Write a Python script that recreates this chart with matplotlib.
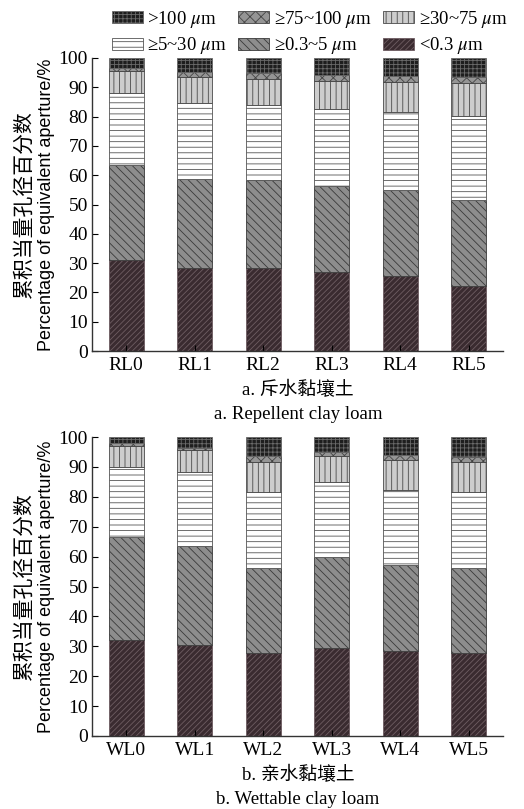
import matplotlib
matplotlib.use("Agg")
import matplotlib.pyplot as plt
import numpy as np
from matplotlib.patches import Patch

plt.rcParams['font.family'] = ['Liberation Serif', 'DejaVu Serif']
plt.rcParams['mathtext.fontset'] = 'stix'
plt.rcParams['hatch.linewidth'] = 0.6

# cumulative tops of each class (%), from bottom class upward
rl_labels = ['RL0', 'RL1', 'RL2', 'RL3', 'RL4', 'RL5']
rl_lt03 = [31.2, 28.2, 28.4, 27.1, 25.6, 22.3]
rl_03_5 = [63.4, 58.6, 58.2, 56.3, 54.8, 51.5]
rl_5_30 = [87.9, 84.5, 84.1, 82.5, 81.6, 80.3]
rl_30_75 = [95.5, 93.4, 93.0, 92.2, 91.9, 91.3]
rl_75_100 = [96.5, 95.1, 94.9, 94.2, 94.0, 93.6]
rl_gt100 = [100, 100, 100, 100, 100, 100]

wl_labels = ['WL0', 'WL1', 'WL2', 'WL3', 'WL4', 'WL5']
wl_lt03 = [32.1, 30.3, 27.8, 29.3, 28.4, 27.8]
wl_03_5 = [66.4, 63.4, 56.1, 59.7, 57.2, 56.1]
wl_5_30 = [89.9, 88.2, 81.6, 84.8, 82.3, 81.6]
wl_30_75 = [97.1, 95.5, 91.5, 93.7, 92.2, 91.5]
wl_75_100 = [98.0, 96.3, 93.5, 95.0, 94.0, 93.3]
wl_gt100 = [100, 100, 100, 100, 100, 100]

class_names = ['<0.3 $\\mu$m', '≥0.3~5 $\\mu$m', '≥5~30 $\\mu$m',
               '≥30~75 $\\mu$m', '≥75~100 $\\mu$m', '>100 $\\mu$m']
ylabel_cn = '累积当量孔径百分数'
ylabel_en = 'Percentage of equivalent aperture/%'

styles = [
    dict(facecolor='#3a2b30', edgecolor='#6e5d62', hatch='//////'),
    dict(facecolor='#8d8d8d', edgecolor='#3a3a3a', hatch='\\\\\\\\'),
    dict(facecolor='#ffffff', edgecolor='#555555', hatch='---'),
    dict(facecolor='#cdcdcd', edgecolor='#4a4a4a', hatch='|||'),
    dict(facecolor='#959595', edgecolor='#444444', hatch='xxx'),
    dict(facecolor='#1e1e1e', edgecolor='#6a6a6a', hatch='++++'),
]

W, H = 524, 809
fig = plt.figure(figsize=(W / 100, H / 100), dpi=100)
AX_L, AX_R = 92, 503


def make_ax(top_px, bot_px):
    return fig.add_axes([AX_L / W, 1 - bot_px / H, (AX_R - AX_L) / W, (bot_px - top_px) / H])


def draw(ax, labels, series):
    x = np.arange(len(labels))
    prev = np.zeros(len(labels))
    for vals, st in zip(series, styles):
        vals = np.array(vals, dtype=float)
        ax.bar(x, vals - prev, bottom=prev, width=0.51, linewidth=0.6, **st)
        prev = vals
    ax.set_xlim(-0.5, 5.5)
    ax.set_ylim(0, 100)
    ax.set_yticks(np.arange(0, 101, 10))
    ax.set_xticks(x)
    ax.set_xticklabels(labels)
    ax.spines['top'].set_visible(False)
    ax.spines['right'].set_visible(False)
    for s in ['left', 'bottom']:
        ax.spines[s].set_linewidth(1.0)
        ax.spines[s].set_color('#333333')
    ax.tick_params(direction='in', labelsize=14, length=4, width=0.8, pad=3)
    ax.tick_params(axis='x', pad=4)
    wpx = AX_R - AX_L
    ax.text((24 - AX_L) / wpx, 0.5, ylabel_cn, transform=ax.transAxes, rotation=90,
            ha='center', va='center', fontsize=15,
            family=['Noto Sans CJK SC', 'DejaVu Sans'])
    ax.text((47 - AX_L) / wpx, 0.5, ylabel_en, transform=ax.transAxes,
            rotation=90, ha='center', va='center', fontsize=13,
            family=['Liberation Sans', 'DejaVu Sans'])


ax1 = make_ax(58, 351)
draw(ax1, rl_labels, [rl_lt03, rl_03_5, rl_5_30, rl_30_75, rl_75_100, rl_gt100])
fig.text(298 / W, 1 - 390 / H, 'a. 斥水黏壤土', ha='center', va='center', fontsize=13.5,
         family=['Liberation Serif', 'Noto Sans CJK SC'])
fig.text(298 / W, 1 - 415 / H, 'a. Repellent clay loam', ha='center', va='center', fontsize=13.5)

ax2 = make_ax(437, 736)
draw(ax2, wl_labels, [wl_lt03, wl_03_5, wl_5_30, wl_30_75, wl_75_100, wl_gt100])
fig.text(298 / W, 1 - 775 / H, 'b. 亲水黏壤土', ha='center', va='center', fontsize=13.5,
         family=['Liberation Serif', 'Noto Sans CJK SC'])
fig.text(298 / W, 1 - 800 / H, 'b. Wettable clay loam', ha='center', va='center', fontsize=13.5)

# legend: row1 >100, >=75~100, >=30~75 ; row2 >=5~30, >=0.3~5, <0.3
order = [5, 2, 4, 1, 3, 0]
handles = [Patch(linewidth=0.6, **styles[i]) for i in order]
labs = [class_names[i] for i in order]
fig.legend(handles, labs, loc='upper left', bbox_to_anchor=(108 / W, 1 - 5 / H), ncol=3,
           frameon=False, fontsize=13.5, handlelength=1.65, handleheight=0.6,
           handletextpad=0.25, columnspacing=0.6, labelspacing=0.3, borderpad=0.2,
           borderaxespad=0)

fig.savefig('out.png', dpi=100)
